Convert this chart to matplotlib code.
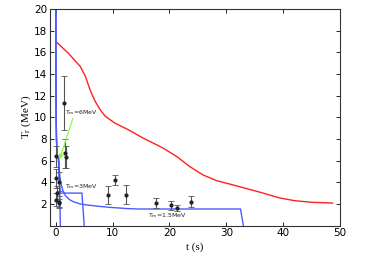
import matplotlib
matplotlib.use("Agg")
import matplotlib.pyplot as plt

# red curve
red_t = [0, 2.25, 4.3, 5.2, 6.05, 6.9, 7.8, 8.7, 10.4, 12.8, 15.4, 16.6, 18.9,
         21.3, 23.6, 25.9, 28.3, 31.2, 35.6, 39.4, 42, 45, 48.7]
red_T = [17.0, 15.9, 14.7, 13.8, 12.5, 11.5, 10.7, 10.1, 9.46, 8.84, 8.07, 7.76,
         7.15, 6.37, 5.44, 4.68, 4.15, 3.75, 3.13, 2.55, 2.3, 2.15, 2.08]

# blue curves for each T_m (they share the early cooling branch)
blue6_t = [0.0, 0.02, 0.06, 0.12, 0.2, 0.3, 0.45, 0.55, 0.65, 0.8]
blue6_T = [25, 14, 10.0, 8.0, 6.9, 6.3, 6.2, 6.1, 4.0, 0.0]

blue3_t = [0.0, 0.02, 0.06, 0.12, 0.2, 0.3, 0.45, 0.55, 0.65, 0.8, 4.6, 5.0]
blue3_T = [25, 14, 10.0, 8.0, 6.9, 6.3, 6.2, 5.0, 3.8, 3.0, 3.0, 0.0]

blue15_t = [0.0, 0.02, 0.06, 0.12, 0.2, 0.3, 0.45, 0.55, 0.7, 0.9, 1.2, 1.7,
            2.4, 3.1, 4.3, 5.5, 7.5, 9.6, 12.5, 14.5, 32.5, 33.0]
blue15_T = [25, 14, 10.0, 8.0, 6.9, 6.3, 6.2, 5.4, 4.6, 3.9, 3.3, 2.75,
            2.4, 2.2, 2.0, 1.9, 1.78, 1.68, 1.57, 1.53, 1.53, 0.0]

# measured points with errors
obs_t = [0.0, 0.05, 0.5, 0.2, 0.1, 0.5, 0.65, 1.37, 1.55, 1.78,
         9.15, 10.4, 12.4, 17.6, 20.2, 21.3, 23.8]
obs_T = [6.4, 4.37, 4.06, 3.0, 2.4, 2.2, 2.05, 11.3, 6.68, 6.31,
         2.8, 4.2, 2.85, 2.1, 1.88, 1.6, 2.2]
obs_err = [0.95, 0.9, 0.9, 0.7, 0.6, 0.5, 0.45, 2.5, 1.35, 1.0,
           0.85, 0.45, 0.9, 0.48, 0.42, 0.3, 0.52]

x_ticks = [0, 10, 20, 30, 40, 50]
y_ticks = [2, 4, 6, 8, 10, 12, 14, 16, 18, 20]

fig = plt.figure(figsize=(3.74, 2.66), dpi=100)
ax = fig.add_axes([0.134, 0.152, 0.775, 0.814])

ax.plot(red_t, red_T, color="#ff2020", lw=1.0)
blue = "#4a5cff"
ax.plot(blue15_t, blue15_T, color=blue, lw=1.0)
ax.plot(blue3_t, blue3_T, color=blue, lw=1.0)
ax.plot(blue6_t, blue6_T, color=blue, lw=1.0)

ax.errorbar(obs_t, obs_T, yerr=obs_err, fmt=".", color="#222222", ms=4,
            ecolor="#555555", elinewidth=0.8, capsize=2, capthick=0.6)

ax.annotate("", xy=(0.65, 6.1), xytext=(3.0, 9.9),
            arrowprops=dict(arrowstyle="-|>", color="#80ff30", lw=0.8,
                            mutation_scale=7, shrinkA=0, shrinkB=0))
ax.text(1.7, 10.0, "T$_\\mathregular{m}$=6MeV", fontsize=4.5, color="#222222",
        va="bottom")
ax.text(1.6, 3.15, "T$_\\mathregular{m}$=3MeV", fontsize=4.5, color="#222222",
        va="bottom")
ax.text(16.3, 0.55, "T$_\\mathregular{m}$=1.5MeV", fontsize=4.5, color="#222222",
        va="bottom")

ax.set_xlim(-1, 50)
ax.set_ylim(0, 20)
ax.set_xticks(x_ticks)
ax.set_yticks(y_ticks)
ax.tick_params(direction="in", top=True, right=True, length=3, width=0.6,
               labelsize=7.5, pad=2)
for s in ax.spines.values():
    s.set_linewidth(0.8)
    s.set_color("#333333")

ax.set_xlabel("t (s)", fontsize=8, family="Liberation Serif", labelpad=3)
ax.set_ylabel("T$_\\mathregular{r}$ (MeV)", fontsize=8,
              family="Liberation Serif", labelpad=1)

fig.savefig("out.png", dpi=100)
